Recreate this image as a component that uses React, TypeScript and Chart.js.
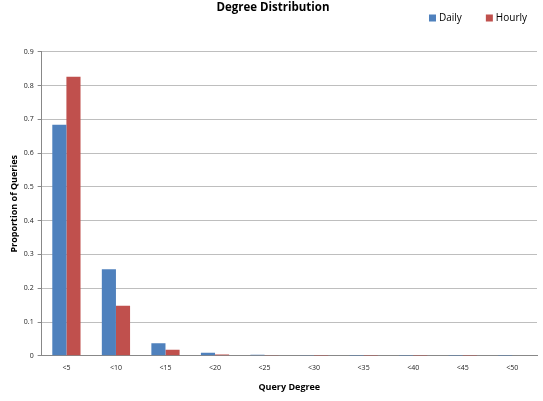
import React, { useEffect, useRef } from "react";
import { Chart, registerables } from "chart.js";

Chart.register(...registerables);

const categories = ["<5", "<10", "<15", "<20", "<25", "<30", "<35", "<40", "<45", "<50"];
const dailyValues = [0.684, 0.256, 0.037, 0.009, 0.003, 0.001, 0.0003, 0.0002, 0.0001, 0.0001];
const hourlyValues = [0.826, 0.148, 0.018, 0.004, 0.001, 0.0005, 0.0002, 0.0001, 0.0001, 0.0];
const yTicks = [0, 0.1, 0.2, 0.3, 0.4, 0.5, 0.6, 0.7, 0.8, 0.9];

const FONT = "'Open Sans', 'Liberation Sans', sans-serif";

const customLegend = {
  id: "customLegend",
  afterDraw(chart: any) {
    const ctx = chart.ctx;
    const ds = chart.data.datasets;
    ctx.save();
    ctx.font = `10px ${FONT}`;
    ctx.textBaseline = "middle";
    ctx.textAlign = "left";
    const y = 18;
    const box = 7;
    const gapBoxText = 3;
    const gapItems = 24;
    const widths = ds.map((d: any) => box + gapBoxText + ctx.measureText(d.label).width);
    const total = widths.reduce((a: number, b: number) => a + b, 0) + gapItems * (ds.length - 1);
    let x = chart.width - 16 - total;
    ds.forEach((d: any, i: number) => {
      ctx.fillStyle = d.backgroundColor;
      ctx.fillRect(x, y - box / 2, box, box);
      ctx.fillStyle = "#000";
      ctx.fillText(d.label, x + box + gapBoxText, y);
      x += widths[i] + gapItems;
    });
    ctx.restore();
  },
};

export default function App() {
  const ref = useRef<HTMLCanvasElement>(null);
  useEffect(() => {
    document.body.style.margin = "0";
    const chart = new Chart(ref.current!, {
      type: "bar",
      plugins: [customLegend],
      data: {
        labels: categories,
        datasets: [
          {
            label: "Daily",
            data: dailyValues,
            backgroundColor: "#4F81BD",
            borderWidth: 0,
            categoryPercentage: 0.57,
            barPercentage: 1,
          },
          {
            label: "Hourly",
            data: hourlyValues,
            backgroundColor: "#C0504D",
            borderWidth: 0,
            categoryPercentage: 0.57,
            barPercentage: 1,
          },
        ],
      },
      options: {
        responsive: false,
        animation: false,
        layout: { padding: { left: 9, right: 6, top: 0, bottom: 8 } },
        plugins: {
          title: {
            display: true,
            text: "Degree Distribution",
            color: "#000",
            font: { family: FONT, size: 11.5, weight: "bold" },
            padding: { top: 1, bottom: 37 },
          },
          legend: { display: false },
          tooltip: { enabled: false },
        },
        scales: {
          x: {
            grid: { display: false, drawTicks: false },
            border: { color: "#888", width: 1 },
            ticks: {
              color: "#222",
              font: { family: FONT, size: 7 },
              padding: 8,
              maxRotation: 0,
            },
            title: {
              display: true,
              text: "Query Degree",
              color: "#000",
              font: { family: FONT, size: 9, weight: "bold" },
              padding: { top: 2, bottom: 0 },
            },
          },
          y: {
            min: 0,
            max: 0.9,
            afterBuildTicks: (s: any) => {
              s.ticks = yTicks.map((v) => ({ value: v }));
            },
            grid: {
              color: "#BEBEBE",
              drawTicks: true,
              tickLength: 4,
              tickColor: "#888",
            },
            border: { color: "#888", width: 1 },
            ticks: {
              color: "#222",
              font: { family: FONT, size: 7 },
              padding: 4,
              callback: (v: any) => (Number(v) === 0 ? "0" : Number(v).toFixed(1)),
            },
            title: {
              display: true,
              text: "Proportion of Queries",
              color: "#000",
              font: { family: FONT, size: 9, weight: "bold" },
              padding: { top: 0, bottom: 0 },
            },
          },
        },
      },
    });
    return () => chart.destroy();
  }, []);
  return (
    <div style={{ position: "absolute", left: 0, top: 0, width: 543, height: 401, background: "#fff" }}>
      <canvas ref={ref} width={543} height={401} />
    </div>
  );
}
